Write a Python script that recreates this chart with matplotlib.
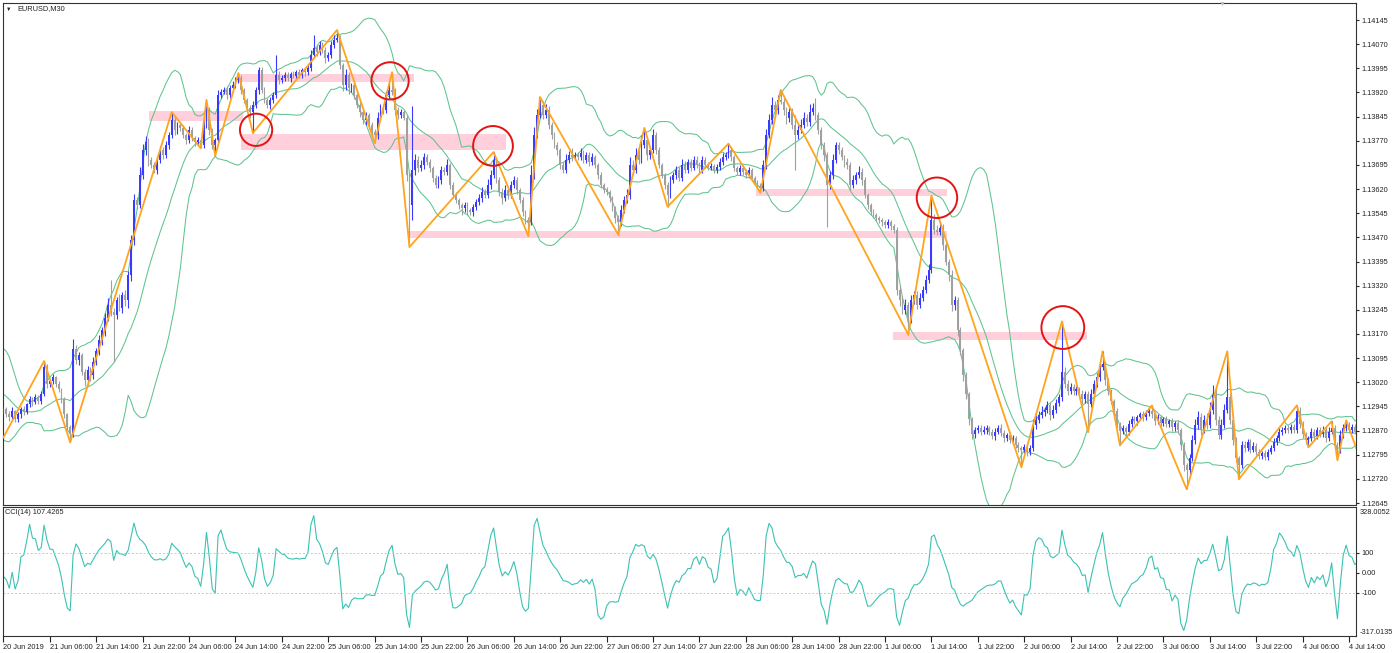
import numpy as np
import pandas as pd
import matplotlib
matplotlib.use('Agg')
import matplotlib.pyplot as plt
from matplotlib.patches import Rectangle

plt.rcParams['font.family'] = ['Liberation Sans', 'DejaVu Sans']

# EURUSD M30, prices in points above 1.00000 (1 point = 0.00001)
# a few bars before the visible window, guessed from where the bands start
prior_close = [13060, 13090, 13120, 13100, 13080, 13040, 13010, 12990, 12970, 12960,
               12940, 12925, 12930, 12915, 12905, 12920, 12910, 12925, 12930]

close_pts = [
    12936, 12920, 12911, 12930, 12905, 12920, 12936, 12927, 12951, 12967, 12958, 12973, 12961, 12983, 13067, 13014,
    13023, 13035, 13014, 12998, 12967, 12920, 12880, 12858, 13122, 13089, 13105, 13052, 13027, 13058, 13043, 13083,
    13116, 13152, 13183, 13220, 13261, 13239, 13230, 13276, 13251, 13292, 13276, 13354, 13462, 13586, 13571, 13664,
    13742, 13766, 13710, 13695, 13679, 13710, 13742, 13726, 13757, 13788, 13835, 13804, 13819, 13810, 13788, 13773,
    13804, 13779, 13766, 13773, 13757, 13819, 13866, 13804, 13757, 13773, 13912, 13922, 13928, 13912, 13934, 13943,
    13959, 13965, 13928, 13897, 13873, 13859, 13881, 13928, 13990, 13928, 13897, 13881, 13897, 13912, 13974, 13959,
    13965, 13974, 13965, 13977, 13971, 13983, 13974, 13990, 13983, 13996, 14036, 14058, 14046, 14067, 14052, 14027,
    14036, 14067, 14083, 14089, 14005, 13943, 13974, 13934, 13943, 13912, 13881, 13859, 13835, 13850, 13819, 13797,
    13788, 13841, 13873, 13866, 13912, 13928, 13922, 13866, 13850, 13859, 13841, 13664, 13571, 13679, 13710, 13686,
    13695, 13719, 13704, 13686, 13655, 13633, 13648, 13679, 13673, 13695, 13633, 13602, 13586, 13571, 13561, 13571,
    13555, 13549, 13564, 13580, 13592, 13611, 13602, 13633, 13664, 13710, 13648, 13611, 13592, 13617, 13602, 13633,
    13648, 13617, 13586, 13549, 13524, 13518, 13664, 13788, 13850, 13881, 13850, 13866, 13819, 13788, 13757, 13742,
    13695, 13679, 13710, 13726, 13719, 13726, 13719, 13732, 13710, 13726, 13704, 13719, 13695, 13664, 13633, 13617,
    13611, 13592, 13561, 13530, 13518, 13555, 13586, 13602, 13695, 13679, 13726, 13710, 13757, 13773, 13726, 13742,
    13788, 13742, 13695, 13664, 13633, 13602, 13648, 13664, 13679, 13655, 13695, 13679, 13704, 13686, 13710, 13695,
    13679, 13710, 13695, 13686, 13692, 13679, 13689, 13704, 13719, 13726, 13742, 13719, 13686, 13673, 13686, 13673,
    13664, 13679, 13655, 13642, 13630, 13623, 13695, 13788, 13835, 13881, 13866, 13897, 13891, 13866, 13841, 13859,
    13819, 13788, 13804, 13819, 13841, 13829, 13859, 13873, 13850, 13804, 13757, 13726, 13633, 13664, 13710, 13757,
    13742, 13719, 13704, 13695, 13633, 13648, 13664, 13673, 13648, 13602, 13571, 13549, 13540, 13530, 13524, 13518,
    13509, 13518, 13506, 13493, 13307, 13276, 13245, 13261, 13220, 13276, 13292, 13261, 13283, 13307, 13338, 13369,
    13524, 13493, 13488, 13500, 13447, 13395, 13354, 13261, 13276, 13183, 13120, 13044, 12983, 12905, 12858, 12872,
    12878, 12866, 12872, 12878, 12866, 12853, 12866, 12878, 12863, 12847, 12857, 12841, 12847, 12825, 12816, 12810,
    12819, 12804, 12816, 12887, 12903, 12918, 12927, 12934, 12949, 12918, 12934, 12955, 12973, 13052, 13014, 12992,
    13005, 12992, 12998, 12983, 12967, 12983, 12952, 12983, 13014, 13036, 13067, 13076, 13027, 12992, 12961, 12930,
    12890, 12868, 12878, 12866, 12890, 12905, 12899, 12911, 12920, 12911, 12924, 12930, 12920, 12899, 12911, 12893,
    12905, 12890, 12899, 12880, 12893, 12872, 12825, 12763, 12748, 12785, 12841, 12887, 12911, 12872, 12903, 12887,
    12934, 12980, 12903, 12857, 12887, 12934, 12973, 12903, 12841, 12785, 12763, 12825, 12816, 12835, 12810, 12822,
    12804, 12791, 12800, 12788, 12804, 12816, 12835, 12847, 12866, 12872, 12878, 12872, 12881, 12872, 12930, 12890,
    12858, 12841, 12847, 12866, 12853, 12872, 12860, 12872, 12847, 12866, 12878, 12825, 12810, 12857, 12878, 12887,
    12872, 12881, 12866, 12878,
]

# wick lengths above / below the body, in points
wick_up = [
    8, 6, 10, 12, 5, 9, 7, 11, 6, 10, 8, 12, 7, 9, 19, 10,
    8, 12, 6, 9, 5, 7, 6, 8, 31, 14, 10, 7, 9, 12, 8, 15,
    10, 14, 9, 16, 22, 77, 12, 10, 18, 9, 14, 12, 15, 20, 9, 25,
    18, 20, 12, 9, 10, 14, 11, 9, 12, 10, 24, 12, 9, 10, 8, 6,
    12, 8, 6, 9, 5, 14, 31, 8, 6, 7, 15, 10, 8, 12, 9, 14,
    10, 15, 8, 6, 5, 9, 12, 10, 10, 8, 9, 6, 10, 8, 62, 12,
    9, 8, 10, 7, 9, 8, 10, 6, 9, 12, 15, 40, 12, 14, 9, 8,
    10, 12, 14, 25, 10, 8, 20, 9, 7, 8, 6, 9, 7, 10, 6, 8,
    9, 18, 12, 10, 14, 20, 55, 12, 9, 10, 6, 8, 10, 200, 18, 12,
    15, 12, 9, 8, 6, 10, 12, 14, 9, 18, 6, 8, 10, 7, 6, 9,
    8, 6, 9, 10, 12, 14, 9, 18, 16, 25, 10, 8, 12, 15, 10, 12,
    14, 8, 6, 9, 7, 10, 30, 25, 20, 25, 14, 18, 12, 9, 10, 8,
    6, 10, 18, 12, 20, 10, 9, 14, 8, 10, 9, 12, 8, 6, 9, 7,
    9, 6, 8, 7, 10, 15, 12, 18, 25, 14, 20, 15, 30, 37, 12, 10,
    20, 9, 8, 7, 6, 10, 12, 9, 14, 10, 18, 12, 10, 9, 14, 12,
    9, 14, 10, 8, 9, 7, 10, 12, 14, 9, 19, 10, 8, 6, 9, 7,
    8, 10, 6, 7, 5, 9, 15, 20, 18, 25, 14, 16, 31, 12, 10, 14,
    12, 30, 15, 20, 18, 12, 25, 14, 30, 10, 8, 9, 10, 12, 20, 9,
    10, 8, 7, 12, 9, 15, 10, 20, 12, 8, 6, 7, 9, 6, 7, 5,
    6, 8, 5, 7, 10, 14, 12, 18, 9, 15, 12, 10, 14, 12, 15, 18,
    75, 20, 14, 18, 12, 10, 9, 16, 12, 8, 10, 6, 9, 8, 7, 10,
    9, 8, 12, 10, 7, 9, 11, 8, 12, 9, 7, 10, 8, 6, 9, 7,
    10, 8, 9, 20, 14, 12, 18, 10, 12, 9, 14, 12, 10, 157, 15, 12,
    14, 9, 10, 8, 12, 9, 10, 15, 12, 14, 12, 40, 9, 7, 8, 6,
    9, 8, 10, 7, 12, 9, 10, 8, 9, 12, 10, 14, 18, 9, 10, 8,
    7, 9, 8, 10, 7, 9, 6, 8, 7, 12, 15, 18, 20, 14, 16, 22,
    25, 30, 18, 12, 20, 18, 143, 15, 10, 8, 6, 12, 14, 10, 9, 12,
    8, 9, 7, 10, 8, 9, 12, 10, 12, 9, 10, 8, 10, 9, 18, 12,
    9, 8, 7, 12, 9, 10, 8, 11, 9, 14, 21, 10, 8, 15, 12, 15,
    10, 9, 8, 10,
]
wick_dn = [
    10, 8, 12, 6, 9, 7, 10, 8, 6, 9, 12, 7, 10, 8, 6, 12,
    9, 7, 10, 8, 12, 10, 9, 25, 8, 12, 15, 10, 20, 14, 18, 12,
    10, 12, 15, 18, 9, 14, 147, 12, 10, 16, 20, 25, 18, 15, 12, 10,
    12, 15, 18, 10, 9, 12, 10, 14, 9, 12, 10, 15, 12, 10, 9, 12,
    10, 9, 12, 8, 10, 9, 8, 15, 12, 34, 10, 9, 8, 12, 10, 9,
    8, 9, 12, 10, 14, 18, 65, 10, 12, 9, 10, 8, 12, 10, 9, 12,
    10, 8, 9, 12, 7, 9, 8, 10, 12, 9, 8, 10, 12, 9, 10, 14,
    10, 9, 8, 7, 12, 20, 15, 18, 14, 12, 10, 16, 12, 15, 12, 10,
    25, 12, 10, 14, 9, 12, 10, 15, 12, 10, 8, 20, 131, 47, 15, 12,
    10, 12, 9, 14, 12, 10, 9, 12, 10, 8, 12, 10, 9, 14, 20, 12,
    15, 10, 12, 9, 8, 12, 10, 9, 12, 10, 8, 14, 18, 10, 12, 9,
    10, 12, 9, 12, 14, 44, 10, 12, 9, 8, 12, 10, 14, 12, 10, 15,
    12, 9, 10, 8, 12, 10, 9, 8, 10, 9, 12, 10, 9, 12, 10, 8,
    10, 12, 9, 14, 40, 12, 10, 9, 12, 14, 10, 12, 9, 8, 15, 12,
    10, 12, 9, 10, 12, 37, 10, 8, 12, 9, 10, 8, 9, 10, 8, 9,
    8, 9, 10, 7, 8, 9, 8, 10, 9, 8, 10, 12, 9, 10, 8, 9,
    9, 8, 10, 9, 8, 14, 10, 12, 9, 14, 10, 12, 8, 15, 18, 12,
    14, 109, 12, 10, 9, 14, 12, 10, 15, 12, 14, 18, 131, 12, 14, 10,
    12, 10, 14, 12, 15, 10, 12, 9, 14, 10, 12, 9, 10, 8, 9, 12,
    10, 9, 12, 10, 15, 18, 12, 14, 52, 15, 12, 14, 10, 12, 9, 10,
    10, 14, 12, 10, 15, 12, 18, 20, 15, 18, 14, 20, 16, 18, 15, 12,
    9, 10, 8, 12, 9, 10, 12, 8, 9, 12, 10, 9, 12, 10, 14, 54,
    10, 12, 9, 10, 12, 8, 10, 12, 9, 14, 10, 8, 9, 10, 12, 10,
    9, 10, 12, 8, 14, 10, 87, 9, 10, 8, 12, 10, 14, 12, 10, 15,
    12, 44, 10, 12, 9, 10, 8, 12, 9, 10, 8, 9, 10, 12, 9, 10,
    9, 10, 8, 12, 10, 9, 15, 18, 60, 12, 10, 14, 12, 15, 10, 12,
    10, 12, 15, 14, 12, 10, 9, 14, 15, 12, 44, 10, 12, 9, 10, 8,
    9, 10, 8, 9, 10, 8, 9, 10, 8, 9, 10, 9, 8, 10, 9, 12,
    10, 12, 23, 9, 10, 8, 9, 10, 12, 9, 8, 10, 32, 9, 10, 8,
    9, 10, 8, 9,
]

# zigzag pivots (bar index, price points)
zigzag_bar = [0, 14, 23, 58, 68, 70, 73, 81, 86, 115, 128, 134, 140, 169, 181, 185, 212, 221, 229,
              250, 261, 268, 312, 320, 351, 365, 374, 379, 385, 396, 408, 422, 426, 446, 450, 458,
              460, 463, 467]
zigzag_pts = [12849, 13086, 12833, 13859, 13747, 13897, 13723, 13980, 13794, 14114, 13763, 13983,
              13440, 13735, 13474, 13906, 13478, 13810, 13565, 13761, 13609, 13928, 13168, 13599,
              12756, 13209, 12865, 13116, 12824, 12948, 12688, 13116, 12719, 12948, 12818, 12899,
              12778, 12902, 12803]

# pink support / resistance zones
zone_start = [50.2, 80.5, 81.9, 140.2, 259.5, 306.7]
zone_end = [82.6, 141.6, 173.3, 325.3, 325.3, 373.6]
zone_low = [13832, 13952, 13742, 13469, 13599, 13150]
zone_high = [13863, 13977, 13792, 13491, 13621, 13175]

# red circles
circle_bar = [87.1, 133.3, 168.8, 321.9, 365.3]
circle_pts = [13804, 13956, 13754, 13593, 13190]
circle_size = [540, 720, 820, 850, 950]

time_labels = ["20 Jun 2019", "21 Jun 06:00", "21 Jun 14:00", "21 Jun 22:00", "24 Jun 06:00",
               "24 Jun 14:00", "24 Jun 22:00", "25 Jun 06:00", "25 Jun 14:00", "25 Jun 22:00",
               "26 Jun 06:00", "26 Jun 14:00", "26 Jun 22:00", "27 Jun 06:00", "27 Jun 14:00",
               "27 Jun 22:00", "28 Jun 06:00", "28 Jun 14:00", "28 Jun 22:00", "1 Jul 06:00",
               "1 Jul 14:00", "1 Jul 22:00", "2 Jul 06:00", "2 Jul 14:00", "2 Jul 22:00",
               "3 Jul 06:00", "3 Jul 14:00", "3 Jul 22:00", "4 Jul 06:00", "4 Jul 14:00"]

assert len(close_pts) == len(wick_up) == len(wick_dn) == 468


def to_price(pts):
    return 1.0 + np.asarray(pts, dtype=float) / 1e5


c = to_price(close_pts)
o = np.concatenate([to_price(prior_close[-1:]), c[:-1]])
h = np.maximum(o, c) + np.array(wick_up) / 1e5
l = np.minimum(o, c) - np.array(wick_dn) / 1e5
n = len(c)
x = np.arange(n)
npre = len(prior_close)

# Bollinger bands (20, 2)
full_close = pd.Series(np.concatenate([to_price(prior_close), c]))
mid = full_close.rolling(20, min_periods=1).mean().values[npre:]
sd = full_close.rolling(20, min_periods=1).std(ddof=0).values[npre:]
upper = mid + 2 * sd
lower = mid - 2 * sd

# CCI(14)
tp = pd.Series(np.concatenate([to_price(prior_close), (h + l + c) / 3]))
sma = tp.rolling(14, min_periods=1).mean()
md = tp.rolling(14, min_periods=1).apply(lambda v: np.mean(np.abs(v - v.mean())), raw=True)
cci = ((tp - sma) / (0.015 * md)).values[npre:]

W, H = 1392, 653
FS = 5.3
TXT = '#222222'
fig = plt.figure(figsize=(W / 100, H / 100), dpi=100)
fig.patch.set_facecolor('white')
ax = fig.add_axes([3 / W, 1 - 505 / H, 1353 / W, 502 / H])
ax2 = fig.add_axes([3 / W, 1 - 636 / H, 1353 / W, 129 / H])

bull, bear = '#3a3aff', '#a0a0a0'
cols = np.where(c >= o, bull, bear)

for z0, z1, p0, p1 in zip(zone_start, zone_end, zone_low, zone_high):
    ax.add_patch(Rectangle((z0, to_price(p0)), z1 - z0, to_price(p1) - to_price(p0),
                           facecolor='#ffcfdc', edgecolor='none', zorder=1))

band_col = '#5fc48e'
ax.plot(x, upper, color=band_col, lw=0.75, zorder=2)
ax.plot(x, mid, color=band_col, lw=0.75, zorder=2)
ax.plot(x, lower, color=band_col, lw=0.75, zorder=2)

ax.vlines(x, l, h, colors=cols, lw=0.8, zorder=3)
ax.bar(x, np.maximum(np.abs(c - o), 0.000015), bottom=np.minimum(o, c), width=0.66,
       color=cols, lw=0, zorder=4)

ax.plot(zigzag_bar, to_price(zigzag_pts), color='#ffa41c', lw=1.3, zorder=5)
ax.scatter(circle_bar, to_price(circle_pts), s=circle_size, facecolors='none',
           edgecolors='#e31414', linewidths=1.4, zorder=6)

ax.set_xlim(-0.17, 466.4)
ax.set_ylim(1.126389, 1.141978)
ax.yaxis.tick_right()
ax.set_yticks(1.12645 + 0.00075 * np.arange(21))
ax.yaxis.set_major_formatter(plt.FormatStrFormatter('%.5f'))
ax.tick_params(axis='y', labelsize=FS, length=2.5, pad=1.5, colors=TXT)
ax.set_xticks([])
for s in ax.spines.values():
    s.set_color('#333333')
    s.set_linewidth(0.8)

# CCI panel
ax2.plot(x, cci, color='#3cc2b2', lw=0.8)
for lev in (100, -100):
    ax2.axhline(lev, color='#c8c8c8', lw=0.7, ls=(0, (2, 2)))
ax2.set_xlim(-0.17, 466.4)
ax2.set_ylim(-317.0135, 328.0052)
ax2.yaxis.tick_right()
ax2.set_yticks([-100, 0, 100])
ax2.set_yticklabels(['-100', '0.00', '100'])
ax2.tick_params(axis='y', labelsize=FS, length=2.5, pad=1.5, colors=TXT)
ax2.set_xticks(np.arange(len(time_labels)) * 16)
ax2.set_xticklabels(time_labels, ha='left')
ax2.tick_params(axis='x', labelsize=FS, length=4, pad=2, colors=TXT)
for s in ax2.spines.values():
    s.set_color('#333333')
    s.set_linewidth(0.8)

fig.text(1360 / W, 1 - 512 / H, '328.0052', fontsize=FS, color=TXT, va='center')
fig.text(1360 / W, 1 - 632 / H, '-317.0135', fontsize=FS, color=TXT, va='center')

fig.text(6 / W, 1 - 9 / H, '\u25bc', fontsize=4, color=TXT, va='center')
fig.text(17 / W, 1 - 9 / H, 'EURUSD,M30', fontsize=FS, color=TXT, va='center')
fig.text(1222 / W, 1 - 4 / H, '\u25bc', fontsize=5, color='#c0c0c0', va='center', ha='center')
fig.text(5 / W, 1 - 513 / H, 'CCI(14) 107.4265', fontsize=FS, color=TXT, va='center')

fig.savefig('out.png', dpi=100, facecolor='white')
